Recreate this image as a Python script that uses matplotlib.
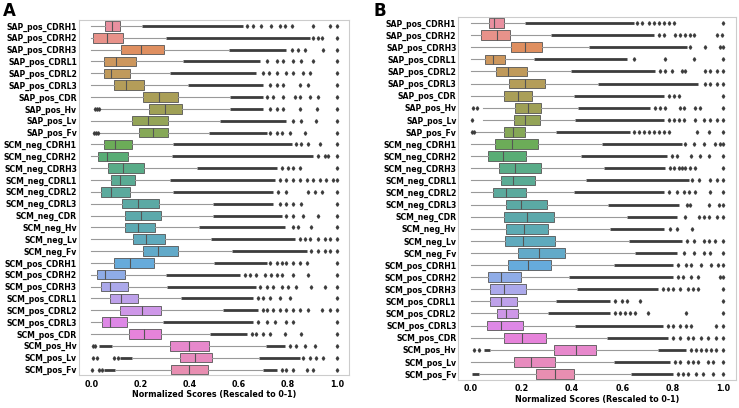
import numpy as np
import matplotlib
matplotlib.use('Agg')
import matplotlib.pyplot as plt
import seaborn as sns

labels = ["SAP_pos_CDRH1", "SAP_pos_CDRH2", "SAP_pos_CDRH3", "SAP_pos_CDRL1", "SAP_pos_CDRL2",
          "SAP_pos_CDRL3", "SAP_pos_CDR", "SAP_pos_Hv", "SAP_pos_Lv", "SAP_pos_Fv",
          "SCM_neg_CDRH1", "SCM_neg_CDRH2", "SCM_neg_CDRH3", "SCM_neg_CDRL1", "SCM_neg_CDRL2",
          "SCM_neg_CDRL3", "SCM_neg_CDR", "SCM_neg_Hv", "SCM_neg_Lv", "SCM_neg_Fv",
          "SCM_pos_CDRH1", "SCM_pos_CDRH2", "SCM_pos_CDRH3", "SCM_pos_CDRL1", "SCM_pos_CDRL2",
          "SCM_pos_CDRL3", "SCM_pos_CDR", "SCM_pos_Hv", "SCM_pos_Lv", "SCM_pos_Fv"]

# ---- panel A: box statistics ----
a_q1 = [.057, .009, .122, .050, .050, .092, .210, .237, .167, .196,
        .051, .026, .068, .081, .038, .127, .138, .136, .171, .209,
        .091, .023, .039, .075, .115, .042, .153, .321, .362, .324]
a_med = [.084, .066, .202, .100, .081, .141, .275, .301, .233, .253,
         .098, .066, .129, .115, .080, .192, .203, .192, .224, .272,
         .159, .054, .077, .121, .205, .077, .213, .398, .423, .400]
a_q3 = [.118, .129, .298, .182, .159, .214, .352, .370, .312, .314,
        .165, .149, .214, .178, .157, .275, .283, .260, .299, .352,
        .255, .136, .148, .191, .283, .145, .286, .478, .491, .474]
a_lo = [0, 0, 0, 0, 0, 0, 0, .037, 0, .033,
        0, 0, 0, 0, 0, 0, 0, 0, 0, 0,
        0, 0, 0, 0, 0, 0, 0, .088, .168, .100]
a_hi = [.206, .304, .561, .373, .321, .396, .565, .565, .524, .481,
        .331, .328, .430, .322, .332, .495, .497, .440, .488, .572,
        .500, .304, .308, .366, .535, .294, .484, .710, .685, .699]
# end of the dense run of outliers above the upper whisker
a_run = [.619, .890, .795, .687, .673, .700, .700, .700, .795, .714,
         .816, .904, .755, .748, .741, .741, .775, .789, .829, .877,
         .714, .606, .673, .660, .680, .660, .633, .789, .850, .755]
# dense run of outliers below the lower whisker (row: (start, end))
a_low_run = {27: (.030, .084), 28: (.118, .165), 29: (.050, .098)}
a_fliers = [
    [.633, .659, .693, .734, .768, .789, .816, .904, .972, .999],
    [.904, .924, .938, .999],
    [.816, .843, .870, .944, .999],
    [.714, .755, .782, .823, .856, .904, .999],
    [.700, .726, .755, .795, .822, .863, .890, .999],
    [.728, .755, .782, .850, .884, .999],
    [.714, .741, .782, .829, .850, .890, .924, .999],
    [.016, .024, .030, .728, .755, .782, .850, .918, .999],
    [.822, .856, .917, .999],
    [.010, .019, .026, .728, .755, .775, .809, .870, .999],
    [.836, .856, .883, .931, .999],
    [.924, .951, .965, .999],
    [.775, .802, .822, .850, .999],
    [.768, .795, .822, .850, .877, .904, .931, .958, .985, .999],
    [.761, .795, .883, .911, .938, .999],
    [.768, .795, .822, .856, .999],
    [.795, .822, .863, .924, .999],
    [.822, .843, .897, .999],
    [.850, .870, .890, .924, .951, .972, .999],
    [.897, .924, .951, .972, .999],
    [.728, .755, .775, .795, .822, .850, .877, .999],
    [.626, .646, .673, .707, .734, .755, .775, .823, .884, .999],
    [.687, .714, .741, .775, .802, .836, .897, .951, .999],
    [.680, .700, .728, .768, .809, .999],
    [.700, .714, .741, .768, .795, .822, .850, .884, .938, .972, .999],
    [.680, .714, .748, .795, .822, .999],
    [.653, .673, .700, .728, .789, .856, .999],
    [.005, .016, .809, .836, .870, .911, .999],
    [.009, .023, .091, .110, .863, .890, .917, .944, .999],
    [.003, .030, .043, .775, .795, .822, .877, .904, .999],
]

# ---- panel B ----
b_q1 = [.070, .040, .160, .057, .099, .152, .132, .176, .169, .130,
        .095, .069, .111, .118, .086, .139, .132, .139, .135, .185,
        .148, .066, .075, .075, .102, .065, .132, .328, .172, .257]
b_med = [.091, .102, .212, .086, .148, .214, .185, .224, .214, .168,
         .161, .128, .175, .168, .139, .197, .221, .208, .204, .271,
         .224, .119, .132, .119, .140, .119, .202, .415, .238, .332]
b_q3 = [.130, .155, .282, .135, .220, .294, .243, .276, .272, .213,
        .265, .216, .278, .254, .216, .302, .328, .304, .332, .373,
        .316, .197, .216, .181, .185, .205, .298, .496, .331, .406]
b_lo = [0, 0, 0, 0, 0, 0, 0, .049, .049, .020,
        0, 0, 0, 0, 0, 0, 0, 0, 0, 0,
        0, 0, 0, 0, 0, 0, 0, .080, 0, .035]
b_hi = [.212, .317, .466, .251, .397, .505, .406, .422, .413, .336,
        .519, .435, .525, .456, .409, .542, .620, .549, .624, .648,
        .565, .390, .420, .335, .303, .410, .540, .740, .565, .635]
b_run = [.644, .724, .856, .618, .730, .900, .763, .710, .763, .631,
         .836, .776, .770, .862, .763, .823, .816, .763, .836, .816,
         .800, .800, .740, .550, .550, .760, .780, .850, .790, .800]
b_low_run = {27: (.050, .075), 29: (.003, .030)}
b_fliers = [
    [.657, .677, .704, .724, .743, .763, .783, .803, .999],
    [.743, .763, .810, .829, .849, .869, .882, .975, .995],
    [.869, .929, .988, .999],
    [.644, .770, .882, .999],
    [.750, .770, .796, .836, .849, .929, .948, .975, .999],
    [.929, .948, .975, .999],
    [.783, .803, .823, .999],
    [.007, .022, .730, .750, .770, .829, .843, .889, .909, .999],
    [.003, .783, .803, .823, .843, .889, .922, .948, .975, .999],
    [.004, .012, .644, .664, .684, .704, .724, .743, .763, .783, .896, .942, .999],
    [.849, .882, .922, .968, .988, .999],
    [.796, .816, .870, .909, .942, .999],
    [.790, .803, .823, .836, .849, .869, .889, .999],
    [.876, .902, .948, .975, .999],
    [.783, .816, .843, .862, .889, .948, .999],
    [.856, .869, .942, .981, .999],
    [.849, .902, .922, .942, .975, .999],
    [.790, .816, .876],
    [.856, .882, .922, .942, .968, .999],
    [.843, .882, .922, .948, .999],
    [.820, .850, .870, .910, .950, .980, .999],
    [.820, .840, .870, .900, .985, .999],
    [.760, .780, .800, .830, .860, .880, .900, .999],
    [.570, .600, .620, .670, .999],
    [.570, .590, .610, .630, .650, .700, .850, .999],
    [.780, .800, .830, .850, .870, .970, .999],
    [.800, .830, .860, .880, .910, .940, .970, .999],
    [.010, .030, .870, .890, .910, .930, .950, .970, .999],
    [.810, .830, .860, .880, .900, .940, .960, .999],
    [.820, .840, .860, .890, .920, .960, .999],
]

# husl palette, desaturated like seaborn's boxplot and lifted a bit toward white
base = [np.array(sns.desaturate(c, .75)) for c in sns.husl_palette(len(labels), h=.01, s=.9, l=.65)]
colors = [tuple(0.88 * c + 0.12) for c in base]
line_gray = '#555555'
dark = '#3c3c3c'


def panel(ax, q1, med, q3, lo, hi, run, low_run, fliers):
    stats = []
    for i in range(len(labels)):
        stats.append(dict(q1=q1[i], med=med[i], q3=q3[i], whislo=lo[i],
                          whishi=hi[i], fliers=fliers[i], label=labels[i]))
    pos = np.arange(len(labels))
    bp = ax.bxp(stats, positions=pos, orientation='horizontal', widths=0.8,
                patch_artist=True, showcaps=False,
                boxprops=dict(linewidth=0.6, edgecolor=line_gray),
                medianprops=dict(color=line_gray, linewidth=0.8),
                whiskerprops=dict(color='#999999', linewidth=0.8),
                flierprops=dict(marker='d', markersize=1.8, markerfacecolor=dark,
                                markeredgecolor=dark, linestyle='none'))
    for patch, c in zip(bp['boxes'], colors):
        patch.set_facecolor(c)
    # the many overlapping outliers render as a solid dark run
    ax.hlines(pos, hi, run, color=dark, linewidth=2.0, zorder=1)
    for i, (s, e) in low_run.items():
        ax.hlines(i, s, e, color=dark, linewidth=2.0, zorder=1)

    ax.set_xlim(-0.05, 1.05)
    ax.set_ylim(len(labels) - 0.5, -0.5)
    ax.set_yticks(pos)
    ax.set_yticklabels(labels, fontsize=5.6, fontweight='bold')
    ax.set_xticks([0, .2, .4, .6, .8, 1.0])
    ax.set_xticklabels(['0.0', '0.2', '0.4', '0.6', '0.8', '1.0'], fontsize=5.8, fontweight='bold')
    ax.tick_params(length=0, pad=1.5)
    ax.tick_params(axis='x', pad=3)
    ax.set_xlabel('Normalized Scores (Rescaled to 0-1)', fontsize=5.8, fontweight='bold', labelpad=1.0)
    for sp in ax.spines.values():
        sp.set_color('#cccccc')
        sp.set_linewidth(0.8)


fig = plt.figure(figsize=(7.39, 4.08), dpi=100)
axA = fig.add_axes([0.1069, 0.0797, 0.3654, 0.8713])
axB = fig.add_axes([0.6204, 0.0686, 0.3755, 0.8897])
panel(axA, a_q1, a_med, a_q3, a_lo, a_hi, a_run, a_low_run, a_fliers)
panel(axB, b_q1, b_med, b_q3, b_lo, b_hi, b_run, b_low_run, b_fliers)

fig.text(0.004, 0.995, 'A', fontsize=12, fontweight='bold', va='top', ha='left')
fig.text(0.505, 0.995, 'B', fontsize=12, fontweight='bold', va='top', ha='left')

fig.savefig('out.png', dpi=100)
